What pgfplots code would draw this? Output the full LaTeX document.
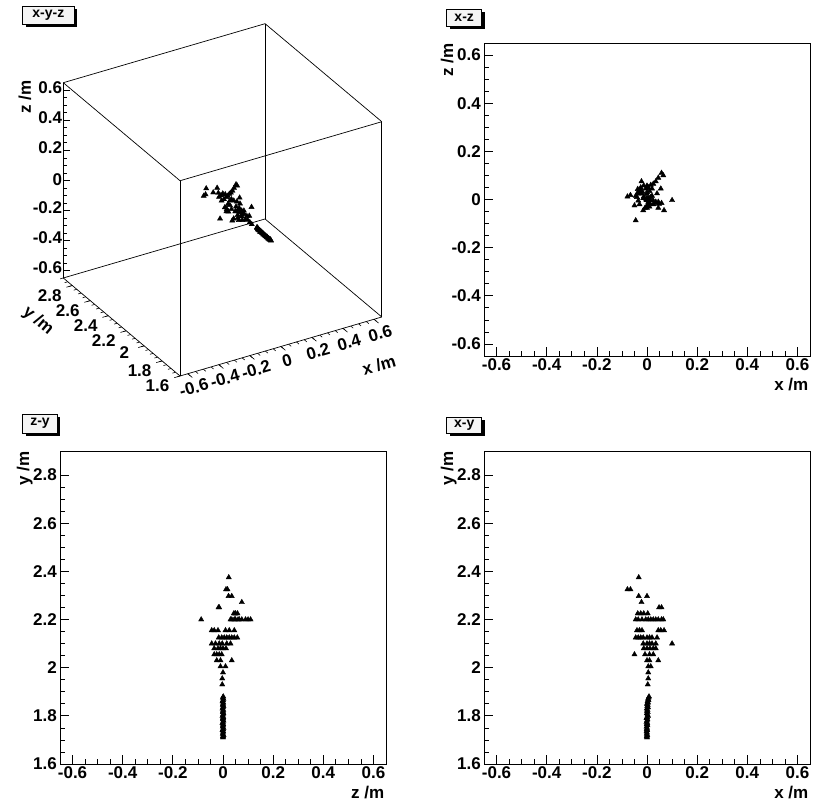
\documentclass[border=0pt]{standalone}
\usepackage{pgfplots}
\pgfplotsset{compat=1.18}
\usepackage{pgfplotstable}
\usetikzlibrary{calc}
\usepackage{fontspec}
\setmainfont{Liberation Sans}[BoldFont={Liberation Sans Bold}]

\pgfplotstableread{
x y z
-0.033 2.375 0.023
-0.078 2.325 0.012
-0.066 2.325 0.018
-0.033 2.297 0.035
0.000 2.297 0.022
-0.022 2.272 0.075
0.048 2.250 -0.018
0.058 2.250 -0.015
-0.037 2.225 0.043
-0.025 2.225 0.050
-0.013 2.225 0.058
0.003 2.225 0.048
-0.045 2.200 -0.087
-0.035 2.200 0.030
-0.020 2.200 0.035
-0.005 2.200 0.045
0.005 2.200 0.050
0.015 2.200 0.060
0.025 2.200 0.065
0.035 2.200 0.075
0.045 2.200 0.090
0.058 2.200 0.110
0.065 2.200 0.100
-0.040 2.155 0.010
-0.030 2.155 -0.020
-0.020 2.155 0.025
0.045 2.155 -0.035
0.055 2.155 0.045
0.068 2.155 -0.045
-0.045 2.125 0.015
-0.035 2.125 -0.005
-0.025 2.125 0.035
-0.015 2.125 0.005
0.000 2.125 0.057
0.010 2.125 -0.017
0.020 2.125 0.045
0.040 2.125 0.025
0.100 2.100 -0.003
-0.015 2.100 -0.045
0.000 2.100 0.030
0.010 2.100 -0.030
0.020 2.100 0.015
0.035 2.100 -0.015
-0.013 2.080 0.012
0.000 2.080 -0.035
0.012 2.080 0.000
0.025 2.080 -0.020
0.035 2.080 -0.010
-0.050 2.055 -0.025
-0.008 2.055 -0.035
0.010 2.055 -0.015
0.025 2.055 -0.005
0.000 2.030 -0.025
0.010 2.030 0.035
0.045 2.030 -0.010
0.005 2.005 -0.010
0.015 2.005 0.010
0.005 1.980 0.000
0.005 1.955 -0.003
0.003 1.930 -0.003
0.008 1.880 0.001
0.006 1.875 -0.001
0.004 1.870 0.002
0.006 1.865 0.000
0.002 1.860 -0.002
0.004 1.855 0.001
0.000 1.850 0.000
0.003 1.845 -0.001
0.001 1.840 0.002
0.004 1.835 0.000
-0.001 1.830 -0.002
0.002 1.825 0.001
0.000 1.820 0.000
0.003 1.815 -0.001
-0.001 1.810 0.002
0.002 1.805 0.000
0.004 1.800 -0.002
0.000 1.795 0.001
-0.002 1.790 0.000
0.002 1.785 -0.001
0.000 1.780 0.002
-0.002 1.775 0.000
0.001 1.770 -0.002
-0.001 1.765 0.001
0.002 1.760 0.000
-0.002 1.755 -0.001
0.000 1.750 0.002
-0.001 1.745 0.000
0.001 1.740 -0.002
-0.002 1.735 0.001
0.000 1.730 0.000
-0.001 1.725 -0.001
0.001 1.720 0.002
-0.001 1.715 0.000
0.000 1.710 0.000
}\pts

\pgfplotsset{
  rootstyle/.style={
    scale only axis, width=326pt, height=313pt,
    axis line style={line width=0.8pt},
    tick style={line width=0.7pt, black},
    tick align=inside, xtick pos=bottom, ytick pos=left,
    major tick length=9pt, minor tick length=5pt,
    minor tick num=3,
    xmin=-0.65, xmax=0.65,
    xtick={-0.6,-0.4,-0.2,0,0.2,0.4,0.6},
    /pgf/number format/assume math mode=true,
    /pgf/number format/fixed,
    tick label style={font=\fontsize{17}{17}\selectfont\bfseries, inner sep=0pt},
    xticklabel style={anchor=north, yshift=-2.7pt},
    yticklabel style={anchor=east, xshift=-3pt},
    label style={font=\fontsize{17}{17}\selectfont\bfseries, inner sep=0pt},
    xlabel style={at={($(rel axis cs:1,0)+(-1.5pt,-34.5pt)$)}, anchor=base east},
    ylabel style={at={($(rel axis cs:0,1)+(-31pt,0pt)$)}, anchor=base east},
  },
  rootmarks/.style={only marks, mark=triangle*, mark size=3pt, black}
}

\newcommand{\titlebox}[5]{%
  \fill[black] (#1+3,#4-3) rectangle (#3+3,#2-3);
  \draw[fill=gray!8, line width=0.7pt] (#1,#2) rectangle (#3,#4);
  \node[font=\fontsize{14}{14}\selectfont\bfseries, inner sep=0pt] at ({(#1+#3)/2},{(#2+#4)/2}) {#5};
}

\begin{document}
\begin{tikzpicture}[x=1pt,y=1pt]
\path (0,0) rectangle (816,803);

% ---------- 3D panel ----------
\begin{axis}[
  name=xyz,
  at={(63.3pt,427pt)}, anchor=south west,
  x={(155.2pt,45.4pt)}, y={(-89.8pt,75.4pt)}, z={(0pt,150.2pt)},
  xmin=-0.65, xmax=0.65, ymin=1.6, ymax=2.9, zmin=-0.65, zmax=0.65,
  3d box=complete,
  axis line style={line width=0.7pt},
  tick pos=left,
  tick style={draw=none},
  xtick={-0.6,-0.4,-0.2,0,0.2,0.4,0.6},
  ytick={1.6,1.8,2,2.2,2.4,2.6,2.8},
  ztick={-0.6,-0.4,-0.2,0,0.2,0.4,0.6},
  /pgf/number format/assume math mode=true,
  /pgf/number format/fixed,
  tick label style={font=\fontsize{17}{17}\selectfont\bfseries, inner sep=0pt},
  xticklabel style={rotate=16, yshift=-9pt, xshift=1pt},
  yticklabel style={xshift=-15pt, yshift=0pt},
  zticklabel style={xshift=-1pt},
  clip=false,
]
\addplot3[rootmarks] table[x=x,y=y,z=z]{\pts};
% axis tick marks along the three labelled edges
\pgfplotsinvokeforeach{-12,...,12}{
  \draw[line width=0.6pt] (axis cs:-0.65,2.9,{#1*0.05}) -- ++(4pt,0pt);
  \draw[line width=0.6pt] (axis cs:{#1*0.05},1.6,-0.65) -- ++(2.5pt,-2.1pt);
}
\pgfplotsinvokeforeach{-12,-8,...,12}{
  \draw[line width=0.6pt] (axis cs:-0.65,2.9,{#1*0.05}) -- ++(7pt,0pt);
  \draw[line width=0.6pt] (axis cs:{#1*0.05},1.6,-0.65) -- ++(4.5pt,-3.8pt);
}
\pgfplotsinvokeforeach{0,...,26}{
  \draw[line width=0.6pt] (axis cs:-0.65,{1.6+#1*0.05},-0.65) -- ++(-3.1pt,-0.9pt);
}
\pgfplotsinvokeforeach{0,4,...,24}{
  \draw[line width=0.6pt] (axis cs:-0.65,{1.6+#1*0.05},-0.65) -- ++(-5.8pt,-1.7pt);
}
\end{axis}
\node[font=\fontsize{17}{17}\selectfont\bfseries, rotate=16, inner sep=0pt] at (379,438) {x /m};
\node[font=\fontsize{17}{17}\selectfont\bfseries, rotate=-40, inner sep=0pt] at (38,482) {y /m};
\node[font=\fontsize{17}{17}\selectfont\bfseries, rotate=90, inner sep=0pt] at (25,706) {z /m};

% ---------- x-z ----------
\begin{axis}[rootstyle, at={(484pt,447pt)}, anchor=south west,
  ymin=-0.65, ymax=0.65, ytick={-0.6,-0.4,-0.2,0,0.2,0.4,0.6},
  xlabel={x /m}, ylabel={z /m}]
\addplot[rootmarks] table[x=x,y=z]{\pts};
\end{axis}

% ---------- z-y ----------
\begin{axis}[rootstyle, at={(60pt,39pt)}, anchor=south west,
  ymin=1.6, ymax=2.9, ytick={1.6,1.8,2,2.2,2.4,2.6,2.8},
  xlabel={z /m}, ylabel={y /m}]
\addplot[rootmarks] table[x=z,y=y]{\pts};
\end{axis}

% ---------- x-y ----------
\begin{axis}[rootstyle, at={(484pt,39pt)}, anchor=south west,
  ymin=1.6, ymax=2.9, ytick={1.6,1.8,2,2.2,2.4,2.6,2.8},
  xlabel={x /m}, ylabel={y /m}]
\addplot[rootmarks] table[x=x,y=y]{\pts};
\end{axis}

\titlebox{22.7}{797}{74}{779}{x-y-z}
\titlebox{446.7}{794}{481.7}{777}{x-z}
\titlebox{22.7}{389}{57.3}{370}{z-y}
\titlebox{446.7}{386}{481.7}{369.7}{x-y}

\pgfresetboundingbox
\path (0,0) rectangle (816,803);
\end{tikzpicture}
\end{document}
